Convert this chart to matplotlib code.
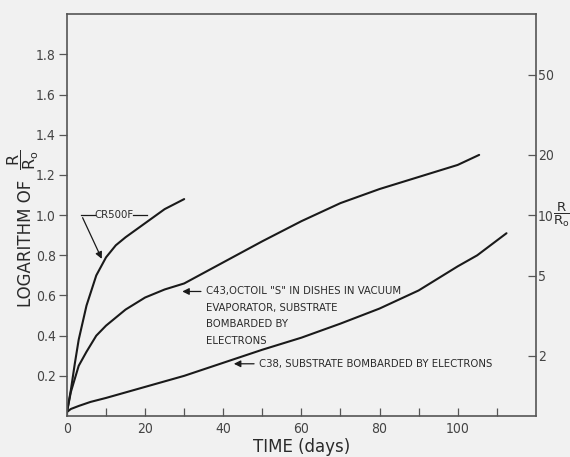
import numpy as np
import matplotlib
matplotlib.use("Agg")
import matplotlib.pyplot as plt
from matplotlib import font_manager
from matplotlib.font_manager import FontProperties

# ---- data ----
cr500f_x = [0, 1, 2, 3, 5, 7.5, 10, 12.5, 15, 20, 25, 30]
cr500f_y = [0.02, 0.13, 0.26, 0.38, 0.55, 0.70, 0.79, 0.85, 0.89, 0.96, 1.03, 1.08]

c43_x = [0, 1, 3, 5, 7.5, 10, 15, 20, 25, 30, 40, 50, 60, 70, 80, 90, 100, 105.5]
c43_y = [0.02, 0.12, 0.25, 0.32, 0.40, 0.45, 0.53, 0.59, 0.63, 0.66, 0.765, 0.87,
         0.97, 1.06, 1.13, 1.19, 1.25, 1.30]

c38_x = [0, 1, 3, 6, 10, 20, 30, 40, 50, 60, 70, 80, 90, 100, 105, 112.5]
c38_y = [0.02, 0.035, 0.05, 0.07, 0.09, 0.145, 0.20, 0.265, 0.33, 0.39, 0.46,
         0.535, 0.625, 0.745, 0.80, 0.91]

x_major = [0, 20, 40, 60, 80, 100]
x_minor = [10, 30, 50, 70, 90, 110]
y_ticks = [0.2, 0.4, 0.6, 0.8, 1.0, 1.2, 1.4, 1.6, 1.8]
ratio_ticks = [2, 5, 10, 20, 50]

label_cr500f = "CR500F"
label_c43 = ["C43,OCTOIL \"S\" IN DISHES IN VACUUM", "EVAPORATOR, SUBSTRATE",
             "BOMBARDED BY", "ELECTRONS"]
label_c38 = "C38, SUBSTRATE BOMBARDED BY ELECTRONS"

# ---- fonts: look for an installed upright condensed face ----
cand = None
for f in font_manager.fontManager.ttflist:
    nm = (f.name + " " + str(f.fname)).lower()
    st = str(f.stretch).lower()
    if f.style != 'normal':
        continue
    if f.weight not in (400, 'normal', 'regular', 'book'):
        continue
    if any(k in nm for k in ('bold', 'italic', 'oblique', 'light', 'thin', 'black', 'medium')):
        continue
    if 'condensed' in nm or 'narrow' in nm or 'condensed' in st:
        cand = f.fname
        break
if cand is not None:
    cfp = FontProperties(fname=cand)
else:
    cfp = FontProperties(family='Liberation Sans')
tick_size = 10
ann_size = 8.1

plt.rcParams['mathtext.fontset'] = 'custom'
plt.rcParams['mathtext.rm'] = 'DejaVu Sans'
plt.rcParams['mathtext.it'] = 'DejaVu Sans'

bg = '#f1f1f1'
ink = '#1a1a1a'
spine_c = '#555555'
txt_c = '#2a2a2a'

fig = plt.figure(figsize=(5.7, 4.57), dpi=100, facecolor=bg)
ax = fig.add_axes([0.1175, 0.0897, 0.8225, 0.879])
ax.set_facecolor(bg)

for xs, ys in [(cr500f_x, cr500f_y), (c43_x, c43_y), (c38_x, c38_y)]:
    ax.plot(xs, ys, color=ink, lw=1.5, solid_capstyle='round')

ax.set_xlim(0, 120)
ax.set_ylim(0, 2.0)

for s in ax.spines.values():
    s.set_color(spine_c)
    s.set_linewidth(1.2)

ax.set_xticks(x_major)
ax.set_xticklabels([str(v) for v in x_major])
ax.set_xticks(x_minor, minor=True)
ax.tick_params(axis='x', which='both', direction='in', length=6, width=0.9,
               color=spine_c, pad=4, labelcolor='#444444')
ax.set_yticks(y_ticks)
ax.set_yticklabels([f"{v:.1f}" for v in y_ticks])
ax.tick_params(axis='y', which='both', direction='out', length=6, width=0.9,
               color=spine_c, pad=2, labelcolor='#444444')
for lab in ax.get_xticklabels() + ax.get_yticklabels():
    lab.set_fontproperties(cfp)
    lab.set_fontsize(tick_size)

ax.set_xlabel("TIME (days)", family='DejaVu Sans', fontsize=12, color=txt_c, labelpad=2)
# y label: words plus a separate rotated fraction
fig.text(26 / 570, 1 - 243 / 457, "LOGARITHM OF", rotation=90, family='DejaVu Sans',
         fontsize=12, color=txt_c, ha='center', va='center')
fig.text(23.5 / 570, 1 - 160 / 457, r"$\dfrac{\mathrm{R}}{\mathrm{R_o}}$", rotation=90,
         fontsize=11.5, color=txt_c, ha='center', va='center')

ax2 = ax.twinx()
ax2.set_ylim(0, 2.0)
ax2.set_yticks(np.log10(ratio_ticks))
ax2.set_yticklabels([str(v) for v in ratio_ticks])
ax2.tick_params(axis='y', direction='in', length=6, width=0.9, color=spine_c,
                pad=1.5, labelcolor='#444444')
for lab in ax2.get_yticklabels():
    lab.set_fontproperties(cfp)
    lab.set_fontsize(tick_size)
for s in ax2.spines.values():
    s.set_visible(False)
ax.text(1.036, 0.5, r"$\dfrac{\mathrm{R}}{\mathrm{R_o}}$", transform=ax.transAxes,
        fontsize=9.5, color=txt_c, ha='left', va='center')

lk = dict(color=ink, lw=0.9)
def t(x, y, s, **kw):
    ax.text(x, y, s, fontproperties=cfp, fontsize=ann_size, color=txt_c, **kw)

# CR500F label
t(12, 1.0, label_cr500f, ha='center', va='center')
ax.plot([16.9, 20.5], [1.0, 1.0], **lk)
ax.plot([7.1, 3.7], [1.0, 1.0], **lk)
ax.annotate("", xy=(9.2, 0.77), xytext=(3.7, 1.0),
            arrowprops=dict(arrowstyle='-|>', color=ink, lw=0.9, mutation_scale=10))
# C43 label
ax.annotate("", xy=(28.8, 0.62), xytext=(35.0, 0.62),
            arrowprops=dict(arrowstyle='-|>', color=ink, lw=0.9, mutation_scale=10))
for i, line in enumerate(label_c43):
    t(35.6, 0.62 - i * 0.082, line, ha='left', va='center')
# C38 label
ax.annotate("", xy=(42.0, 0.26), xytext=(48.6, 0.26),
            arrowprops=dict(arrowstyle='-|>', color=ink, lw=0.9, mutation_scale=10))
t(49.2, 0.26, label_c38, ha='left', va='center')

fig.savefig("out.png", dpi=100, facecolor=bg)
